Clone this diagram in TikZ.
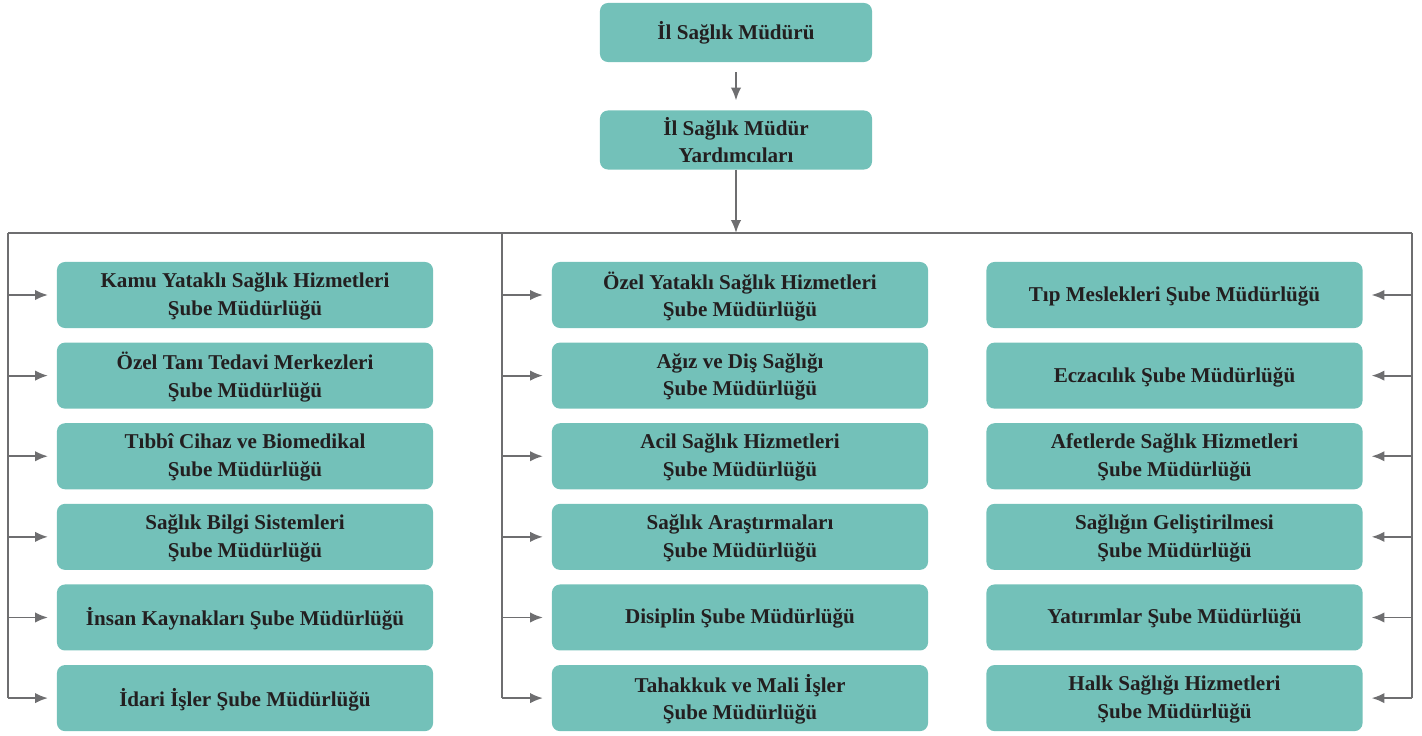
\documentclass[tikz,border=0pt]{standalone}
\usepackage{fontspec}
\setmainfont{Liberation Serif}
\usetikzlibrary{arrows.meta}
\usetikzlibrary{positioning}
\usetikzlibrary{calc}
\definecolor{boxteal}{HTML}{73C1B9}
\definecolor{linegray}{HTML}{6E6E70}
\definecolor{textdark}{HTML}{231F20}

\begin{document}
\begin{tikzpicture}[x=0.025cm, y=-0.025cm, node distance=0.365cm, >={Latex[length=0.32cm,width=0.26cm]}]
 \tikzstyle{box} = [fill=boxteal, rounded corners=0.2cm, align=center, text=textdark, inner sep=0pt, outer sep=0pt, font=\bfseries\fontsize{15}{19.5}\selectfont];
 \tikzstyle{head} = [box, minimum width=6.8cm, minimum height=1.475cm];
 \tikzstyle{unit} = [box, minimum width=9.4cm, minimum height=1.65cm, text depth=0.05cm];
 \tikzstyle{C} = [color=linegray, line width=1.4pt];

 \useasboundingbox (0,0) rectangle (1422,736);

 \node (mudur) [head] at (736,32.5) {İl Sağlık Müdürü};
 \node (yardimci) [head] at (736,140) {İl Sağlık Müdür\\Yardımcıları};

 % left column
 \node (kamu) [unit] at (245,295) {Kamu Yataklı Sağlık Hizmetleri\\Şube Müdürlüğü};
 \node (ozeltani) [unit, below=of kamu] {Özel Tanı Tedavi Merkezleri\\Şube Müdürlüğü};
 \node (cihaz) [unit, below=of ozeltani] {Tıbbî Cihaz ve Biomedikal\\Şube Müdürlüğü};
 \node (bilgi) [unit, below=of cihaz] {Sağlık Bilgi Sistemleri\\Şube Müdürlüğü};
 \node (insan) [unit, below=of bilgi] {İnsan Kaynakları Şube Müdürlüğü};
 \node (idari) [unit, below=of insan] {İdari İşler Şube Müdürlüğü};

 % middle column
 \node (ozelyatakli) [unit] at (740,295) {Özel Yataklı Sağlık Hizmetleri\\Şube Müdürlüğü};
 \node (agiz) [unit, below=of ozelyatakli] {Ağız ve Diş Sağlığı\\Şube Müdürlüğü};
 \node (acil) [unit, below=of agiz] {Acil Sağlık Hizmetleri\\Şube Müdürlüğü};
 \node (arastirma) [unit, below=of acil] {Sağlık Araştırmaları\\Şube Müdürlüğü};
 \node (disiplin) [unit, below=of arastirma] {Disiplin Şube Müdürlüğü};
 \node (tahakkuk) [unit, below=of disiplin] {Tahakkuk ve Mali İşler\\Şube Müdürlüğü};

 % right column
 \node (tip) [unit] at (1174.5,295) {Tıp Meslekleri Şube Müdürlüğü};
 \node (eczacilik) [unit, below=of tip] {Eczacılık Şube Müdürlüğü};
 \node (afet) [unit, below=of eczacilik] {Afetlerde Sağlık Hizmetleri\\Şube Müdürlüğü};
 \node (gelistirme) [unit, below=of afet] {Sağlığın Geliştirilmesi\\Şube Müdürlüğü};
 \node (yatirim) [unit, below=of gelistirme] {Yatırımlar Şube Müdürlüğü};
 \node (halk) [unit, below=of yatirim] {Halk Sağlığı Hizmetleri\\Şube Müdürlüğü};

 \coordinate (bus) at (736,233);
 \coordinate (lbus) at (8,233);
 \coordinate (mbus) at (502,233);
 \coordinate (rbus) at (1412,233);

 \draw [->, C, shorten <=0.25cm, shorten >=0.25cm] (mudur) -- (yardimci);
 \draw [->, C] (yardimci) -- (bus);
 \draw [C] (lbus) -- (rbus);
 \draw [C] (lbus) -- (lbus |- idari);
 \draw [C] (mbus) -- (mbus |- tahakkuk);
 \draw [C] (rbus) -- (rbus |- halk);

 \draw [->, C, shorten >=0.225cm] (lbus |- kamu) -- (kamu.west);
 \draw [->, C, shorten >=0.225cm] (lbus |- ozeltani) -- (ozeltani.west);
 \draw [->, C, shorten >=0.225cm] (lbus |- cihaz) -- (cihaz.west);
 \draw [->, C, shorten >=0.225cm] (lbus |- bilgi) -- (bilgi.west);
 \draw [->, C, shorten >=0.225cm] (lbus |- insan) -- (insan.west);
 \draw [->, C, shorten >=0.225cm] (lbus |- idari) -- (idari.west);

 \draw [->, C, shorten >=0.225cm] (mbus |- ozelyatakli) -- (ozelyatakli.west);
 \draw [->, C, shorten >=0.225cm] (mbus |- agiz) -- (agiz.west);
 \draw [->, C, shorten >=0.225cm] (mbus |- acil) -- (acil.west);
 \draw [->, C, shorten >=0.225cm] (mbus |- arastirma) -- (arastirma.west);
 \draw [->, C, shorten >=0.225cm] (mbus |- disiplin) -- (disiplin.west);
 \draw [->, C, shorten >=0.225cm] (mbus |- tahakkuk) -- (tahakkuk.west);

 \draw [->, C, shorten >=0.225cm] (rbus |- tip) -- (tip.east);
 \draw [->, C, shorten >=0.225cm] (rbus |- eczacilik) -- (eczacilik.east);
 \draw [->, C, shorten >=0.225cm] (rbus |- afet) -- (afet.east);
 \draw [->, C, shorten >=0.225cm] (rbus |- gelistirme) -- (gelistirme.east);
 \draw [->, C, shorten >=0.225cm] (rbus |- yatirim) -- (yatirim.east);
 \draw [->, C, shorten >=0.225cm] (rbus |- halk) -- (halk.east);

\end{tikzpicture}
\end{document}
